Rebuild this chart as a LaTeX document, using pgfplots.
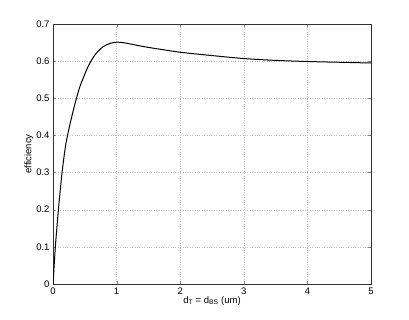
\documentclass[border=0pt]{standalone}
\usepackage{pgfplots}
\pgfplotsset{compat=1.18}
\usepackage{fontspec}
\setmainfont{Liberation Sans}

\begin{document}
\begin{tikzpicture}
\useasboundingbox (-53pt,-36pt) rectangle (356pt,284pt);
\begin{axis}[
    at={(0pt,0pt)}, anchor=south west,
    scale only axis,
    width=318pt, height=260pt,
    xmin=0, xmax=5, ymin=0, ymax=0.7,
    xtick={0,1,2,3,4,5},
    ytick={0,0.1,0.2,0.3,0.4,0.5,0.6,0.7},
    yticklabel style={/pgf/number format/fixed, /pgf/number format/precision=1},
    /pgf/number format/assume math mode=true,
    tick align=inside,
    major tick length=3pt,
    ticklabel style={font=\fontsize{9.5}{11}\selectfont},
    grid=major,
    major grid style={gray!45, dotted},
    axis line style={black!80},
    xlabel={d$_\mathrm{T}$ = d$_\mathrm{BS}$ (um)},
    ylabel={efficiency},
    label style={font=\fontsize{9.5}{11}\selectfont},
    xlabel style={yshift=5pt},
    ylabel style={yshift=-4pt},
]
\addplot[black, line width=1pt, smooth, tension=0.4] coordinates {
    (0,0) (0.037,0.1) (0.085,0.2) (0.142,0.3) (0.2,0.375)
    (0.26,0.425) (0.33,0.475) (0.42,0.53) (0.55,0.585) (0.66,0.617)
    (0.78,0.638) (0.9,0.648) (1.0,0.651) (1.1,0.650) (1.25,0.645)
    (1.5,0.637) (2.0,0.624) (2.5,0.615) (3.0,0.607) (3.5,0.602)
    (4.0,0.599) (4.5,0.597) (5.0,0.595)
};
\end{axis}
\end{tikzpicture}
\end{document}
